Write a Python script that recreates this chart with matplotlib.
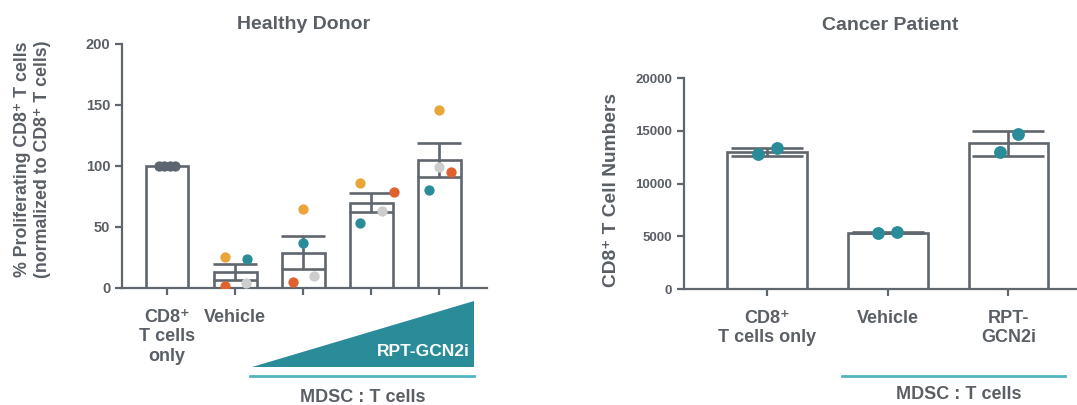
import matplotlib
matplotlib.use("Agg")
import matplotlib.pyplot as plt
import matplotlib.transforms as mtransforms
from matplotlib.patches import Polygon
import numpy as np

# ---------------- data ----------------
hd_labels = ["CD8⁺\nT cells\nonly", "Vehicle", "", "", ""]
hd_means = [100, 13, 29, 70, 105]
hd_sem = [0, 6.5, 13.5, 7.5, 14]
hd_orange = [100, 25.5, 64.5, 86, 146]
hd_teal = [100, 24, 37, 53.5, 80]
hd_red = [100, 2, 5, 78.5, 95]
hd_gray = [100, 4, 10, 63, 99]

cp_labels = ["CD8⁺\nT cells only", "Vehicle", "RPT-\nGCN2i"]
cp_means = [13000, 5350, 13800]
cp_sem = [400, 60, 1180]
cp_rep1 = [12770, 5300, 12960]
cp_rep2 = [13340, 5370, 14660]

# jitter offsets (positions only)
jit_orange = [-0.12, -0.15, 0.0, -0.16, 0.0]
jit_teal = [-0.04, 0.18, 0.0, -0.16, -0.15]
jit_red = [0.04, -0.15, -0.15, 0.33, 0.17]
jit_gray = [0.12, 0.16, 0.16, 0.16, 0.0]
cp_jit1 = [-0.08, -0.08, -0.07]
cp_jit2 = [0.08, 0.08, 0.08]

EDGE = "#5f666d"
TXT = "#5a5f66"
TEAL = "#2a8c99"
LTEAL = "#52b4c0"
ORANGE = "#eaa43a"
RED = "#e0622f"
LGRAY = "#cdcdcd"
DGRAY = "#5d6670"

plt.rcParams["font.family"] = ["Liberation Sans", "DejaVu Sans"]

W, H = 1077, 405
fig = plt.figure(figsize=(W / 100, H / 100), dpi=100)
ax1 = fig.add_axes([0.1133, 0.2889, 0.339, 0.6025])
ax2 = fig.add_axes([0.6351, 0.2864, 0.3649, 0.521])

def style(ax):
    for s in ["top", "right"]:
        ax.spines[s].set_visible(False)
    for s in ["left", "bottom"]:
        ax.spines[s].set_color(EDGE)
        ax.spines[s].set_linewidth(1.6)
    ax.tick_params(axis="both", colors=EDGE, width=1.6, length=5, direction="out")
    ax.tick_params(axis="both", labelcolor=TXT)

# ---------------- Healthy donor ----------------
x1 = np.arange(len(hd_means))
ax1.bar(x1, hd_means, width=0.63, facecolor="white", edgecolor=EDGE, linewidth=1.9, zorder=2)
ax1.errorbar(x1[1:], hd_means[1:], yerr=hd_sem[1:], fmt="none", ecolor=EDGE,
             elinewidth=1.9, capsize=16, capthick=1.9, zorder=3)
s = 55
ax1.scatter(x1[1:] + np.array(jit_orange[1:]), hd_orange[1:], s=s, color=ORANGE, zorder=4, lw=0)
ax1.scatter(x1[1:] + np.array(jit_teal[1:]), hd_teal[1:], s=s, color=TEAL, zorder=4, lw=0)
ax1.scatter(x1[1:] + np.array(jit_red[1:]), hd_red[1:], s=s, color=RED, zorder=4, lw=0)
ax1.scatter(x1[1:] + np.array(jit_gray[1:]), hd_gray[1:], s=s, color=LGRAY, zorder=4, lw=0)
# control: four overlapping dark dots at 100
ctrl = [hd_orange[0], hd_teal[0], hd_red[0], hd_gray[0]]
ctrl_j = [jit_orange[0], jit_teal[0], jit_red[0], jit_gray[0]]
ax1.scatter(x1[0] + np.array(ctrl_j), ctrl, s=s, color=DGRAY, zorder=4, lw=0)

ax1.set_xlim(-0.66, 4.7)
ax1.set_ylim(0, 200)
ax1.set_yticks([0, 50, 100, 150, 200])
ax1.set_xticks(x1)
ax1.set_xticklabels(hd_labels, fontsize=13, fontweight="bold", color=TXT, va="top")
ax1.tick_params(axis="x", pad=10)
for lab in ax1.get_yticklabels():
    lab.set_fontsize(10.5)
    lab.set_fontweight("bold")
style(ax1)
fig.text(32.5 / W, 1 - 159 / H, "% Proliferating CD8⁺ T cells\n(normalized to CD8⁺ T cells)",
         rotation=90, ha="center", va="center", fontsize=12.8, fontweight="bold",
         color=TXT, linespacing=1.3)
ax1.text(0.496, 1.078, "Healthy Donor", transform=ax1.transAxes, ha="center", va="center",
         fontsize=14, fontweight="bold", color=TXT)

tr1 = mtransforms.blended_transform_factory(ax1.transData, ax1.transAxes)
tri = Polygon([[1.25, -0.324], [4.51, -0.324], [4.51, -0.053]], closed=True,
              facecolor=TEAL, edgecolor="none", transform=tr1, clip_on=False)
ax1.add_patch(tri)
ax1.text(4.45, -0.26, "RPT-GCN2i", transform=tr1, ha="right", va="center",
         fontsize=12.5, fontweight="bold", color="white")
ax1.plot([1.22, 4.5], [-0.36, -0.36], transform=tr1, color=LTEAL, lw=2, clip_on=False)
ax1.text(2.87, -0.45, "MDSC : T cells", transform=tr1, ha="center", va="center",
         fontsize=13, fontweight="bold", color=TXT)

# ---------------- Cancer patient ----------------
x2 = np.arange(len(cp_means))
ax2.bar(x2, cp_means, width=0.66, facecolor="white", edgecolor=EDGE, linewidth=1.9, zorder=2)
ax2.errorbar(x2, cp_means, yerr=cp_sem, fmt="none", ecolor=EDGE,
             elinewidth=1.9, capsize=26, capthick=1.9, zorder=3)
ax2.scatter(x2 + np.array(cp_jit1), cp_rep1, s=85, color=TEAL, zorder=4, lw=0)
ax2.scatter(x2 + np.array(cp_jit2), cp_rep2, s=85, color=TEAL, zorder=4, lw=0)
ax2.set_xlim(-0.69, 2.57)
ax2.set_ylim(0, 20000)
ax2.set_yticks([0, 5000, 10000, 15000, 20000])
ax2.set_xticks(x2)
ax2.set_xticklabels(cp_labels, fontsize=13, fontweight="bold", color=TXT, va="top")
ax2.tick_params(axis="x", pad=10)
for lab in ax2.get_yticklabels():
    lab.set_fontsize(9.5)
    lab.set_fontweight("bold")
style(ax2)
fig.text(612 / W, 1 - 190 / H, "CD8⁺ T Cell Numbers", rotation=90, ha="center", va="center",
         fontsize=13.8, fontweight="bold", color=TXT)
ax2.text(0.524, 1.251, "Cancer Patient", transform=ax2.transAxes, ha="center", va="center",
         fontsize=14, fontweight="bold", color=TXT)

tr2 = mtransforms.blended_transform_factory(ax2.transData, ax2.transAxes)
ax2.plot([0.62, 2.47], [-0.412, -0.412], transform=tr2, color=LTEAL, lw=2, clip_on=False)
ax2.text(1.585, -0.502, "MDSC : T cells", transform=tr2, ha="center", va="center",
         fontsize=13, fontweight="bold", color=TXT)

fig.savefig("out.png", dpi=100)
